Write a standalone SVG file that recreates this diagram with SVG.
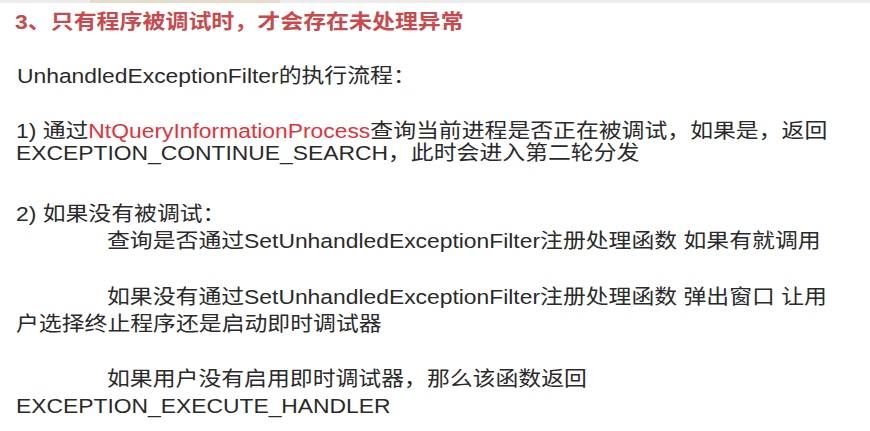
<svg xmlns="http://www.w3.org/2000/svg" width="870" height="431" viewBox="0 0 870 431">
<style>
.t{font-family:"Liberation Sans","Noto Sans CJK SC",sans-serif;font-size:20.5px;fill:#2a2a2a}
.title{font-family:"Liberation Sans","Noto Sans CJK SC",sans-serif;font-size:20.6px;font-weight:bold;fill:#c94a4c}
.red{fill:#e2323a}
</style>
<rect x="0" y="0" width="870" height="431" fill="#ffffff"/>
<rect x="0" y="0" width="870" height="3" fill="#ececec"/>
<rect x="90" y="0" width="190" height="3" fill="#e6dccb"/>
<g transform="scale(1.115 1)">
<g id="title"><text class="title" x="13.45" y="29">3、只有程序被调试时，才会存在未处理异常</text></g>
<g id="heading"><text class="t" x="15.25" y="83">UnhandledExceptionFilter的执行流程：</text></g>
<g id="step1">
<text class="t" x="14.35" y="138">1) 通过<tspan class="red">NtQueryInformationProcess</tspan>查询当前进程是否正在被调试，如果是，返回</text>
<text class="t" x="14.35" y="160">EXCEPTION_CONTINUE_SEARCH，此时会进入第二轮分发</text>
</g>
<g id="step2">
<text class="t" x="14.35" y="221">2) 如果没有被调试：</text>
<text class="t" x="95.96" y="248">查询是否通过SetUnhandledExceptionFilter注册处理函数 如果有就调用</text>
<text class="t" x="95.96" y="304">如果没有通过SetUnhandledExceptionFilter注册处理函数 弹出窗口 让用</text>
<text class="t" x="14.35" y="331">户选择终止程序还是启动即时调试器</text>
<text class="t" x="95.96" y="386">如果用户没有启用即时调试器，那么该函数返回</text>
<text class="t" x="14.35" y="413">EXCEPTION_EXECUTE_HANDLER</text>
</g>
</g>
</svg>
